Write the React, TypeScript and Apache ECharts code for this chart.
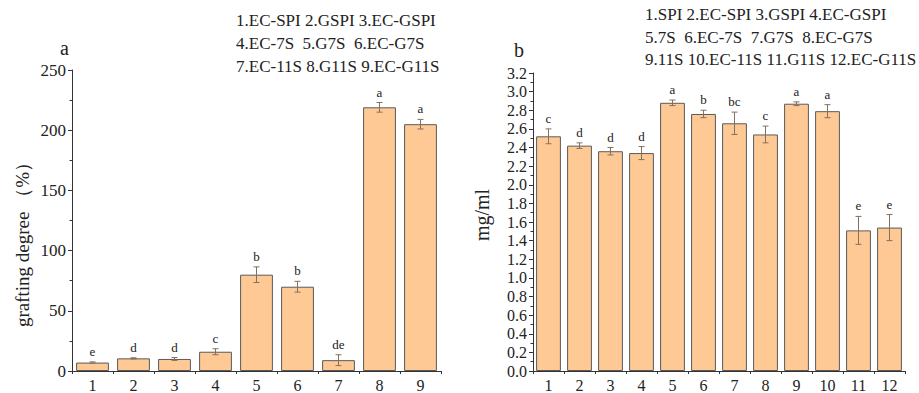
import React, { useEffect, useRef } from "react";
import * as echarts from "echarts";

const catsA = ["1", "2", "3", "4", "5", "6", "7", "8", "9"];
const valsA = [7, 10.5, 10, 16, 80, 70, 9, 219, 205];
const errA = [0.6, 0.5, 1.2, 2.5, 6.5, 4.5, 4.5, 4, 4];
const letA = ["e", "d", "d", "c", "b", "b", "de", "a", "a"];

const catsB = ["1", "2", "3", "4", "5", "6", "7", "8", "9", "10", "11", "12"];
const valsB = [2.52, 2.42, 2.36, 2.34, 2.88, 2.76, 2.66, 2.54, 2.87, 2.79, 1.51, 1.54];
const errB = [0.08, 0.03, 0.04, 0.07, 0.03, 0.04, 0.12, 0.09, 0.02, 0.07, 0.15, 0.14];
const letB = ["c", "d", "d", "d", "a", "b", "bc", "c", "a", "a", "e", "e"];

const legendA = ["1.EC-SPI 2.GSPI 3.EC-GSPI", "4.EC-7S  5.G7S  6.EC-G7S", "7.EC-11S 8.G11S 9.EC-G11S"];
const legendB = ["1.SPI 2.EC-SPI 3.GSPI 4.EC-GSPI", "5.7S  6.EC-7S  7.G7S  8.EC-G7S", "9.11S 10.EC-11S 11.G11S 12.EC-G11S"];

const FONT = "'Liberation Serif', 'Times New Roman', serif";
const BAR = "#FFC996";
const BORDER = "#5a5a5a";
const AXIS = "#333";
const ERR = "#85705e";

function errSeries(xi: number, vals: number[], errs: number[], lets: string[]) {
  return {
    type: "custom",
    xAxisIndex: xi,
    yAxisIndex: xi,
    z: 5,
    data: vals.map((v, i) => [i, v, errs[i], lets[i]]),
    encode: { x: 0, y: 1 },
    renderItem: (params: any, api: any) => {
      const i = api.value(0);
      const v = api.value(1);
      const e = api.value(2);
      const t = lets[params.dataIndex];
      const top = api.coord([i, v + e]);
      const bot = api.coord([i, v - e]);
      const cw = 3;
      return {
        type: "group",
        children: [
          { type: "line", shape: { x1: top[0], y1: top[1], x2: bot[0], y2: bot[1] }, style: { stroke: ERR, lineWidth: 1 } },
          { type: "line", shape: { x1: top[0] - cw, y1: top[1], x2: top[0] + cw, y2: top[1] }, style: { stroke: ERR, lineWidth: 1 } },
          { type: "line", shape: { x1: bot[0] - cw, y1: bot[1], x2: bot[0] + cw, y2: bot[1] }, style: { stroke: ERR, lineWidth: 1 } },
          {
            type: "text",
            x: top[0],
            y: top[1] - 4,
            style: { text: t, fill: "#222", font: `13px ${FONT}`, textAlign: "center", textVerticalAlign: "bottom" },
          },
        ],
      };
    },
  };
}

export default function App() {
  const ref = useRef<HTMLDivElement>(null);
  useEffect(() => {
    if (!ref.current) return;
    const chart = echarts.init(ref.current, undefined, { renderer: "svg" });
    const axisCommon = {
      axisLine: { show: true, lineStyle: { color: AXIS, width: 1 } },
      axisTick: { show: true, length: 4, lineStyle: { color: AXIS } },
      splitLine: { show: false },
      axisLabel: { color: "#222", fontFamily: FONT, fontSize: 16 },
    };
    const legendText = (lines: string[], x: number, y0: number, dy: number) =>
      lines.map((s, k) => ({
        type: "text",
        left: x,
        top: y0 + k * dy,
        style: { text: s, fill: "#222", font: `17px ${FONT}` },
      }));
    chart.setOption({
      animation: false,
      backgroundColor: "#fff",
      grid: [
        { left: 72, width: 369, top: 70, height: 301.5 },
        { left: 533, width: 372, top: 73, height: 298.7 },
      ],
      xAxis: [
        { type: "category", gridIndex: 0, data: catsA, ...axisCommon, axisTick: { ...axisCommon.axisTick, alignWithLabel: false, length: 3 }, axisLabel: { ...axisCommon.axisLabel, margin: 6 } },
        { type: "category", gridIndex: 1, data: catsB, ...axisCommon, axisTick: { ...axisCommon.axisTick, alignWithLabel: false, length: 3 }, axisLabel: { ...axisCommon.axisLabel, margin: 6 } },
      ],
      yAxis: [
        {
          type: "value", gridIndex: 0, min: 0, max: 250, interval: 50, ...axisCommon,
          minorTick: { show: true, splitNumber: 2, length: 2.5, lineStyle: { color: AXIS } },
          axisLabel: { ...axisCommon.axisLabel, fontSize: 17, margin: 6 },
        },
        {
          type: "value", gridIndex: 1, min: 0, max: 3.2, interval: 0.2, ...axisCommon,
          minorTick: { show: true, splitNumber: 2, length: 2.5, lineStyle: { color: AXIS } },
          axisLabel: { ...axisCommon.axisLabel, fontSize: 16, margin: 6, formatter: (v: number) => v.toFixed(1) },
        },
      ],
      series: [
        {
          type: "bar", xAxisIndex: 0, yAxisIndex: 0, data: valsA, barWidth: "80%",
          itemStyle: { color: BAR, borderColor: BORDER, borderWidth: 1 },
        },
        errSeries(0, valsA, errA, letA),
        {
          type: "bar", xAxisIndex: 1, yAxisIndex: 1, data: valsB, barWidth: "80%",
          itemStyle: { color: BAR, borderColor: BORDER, borderWidth: 1 },
        },
        errSeries(1, valsB, errB, letB),
      ],
      graphic: [
        ...legendText(legendA, 236, 12, 23),
        ...legendText(legendB, 645, 6, 22.5),
        { type: "text", left: 60, top: 38, style: { text: "a", fill: "#222", font: `20px ${FONT}` } },
        { type: "text", left: 514, top: 40, style: { text: "b", fill: "#222", font: `20px ${FONT}` } },
        {
          type: "text", x: 22, y: 240, rotation: Math.PI / 2,
          style: { text: "grafting degree （%）", fill: "#222", font: `19px ${FONT}`, textAlign: "center", textVerticalAlign: "middle" },
        },
        {
          type: "text", x: 482, y: 215, rotation: Math.PI / 2,
          style: { text: "mg/ml", fill: "#222", font: `20px ${FONT}`, textAlign: "center", textVerticalAlign: "middle" },
        },
      ],
    });
    return () => chart.dispose();
  }, []);
  return <div ref={ref} style={{ width: 919, height: 393, position: "absolute", left: 0, top: 0 }} />;
}
